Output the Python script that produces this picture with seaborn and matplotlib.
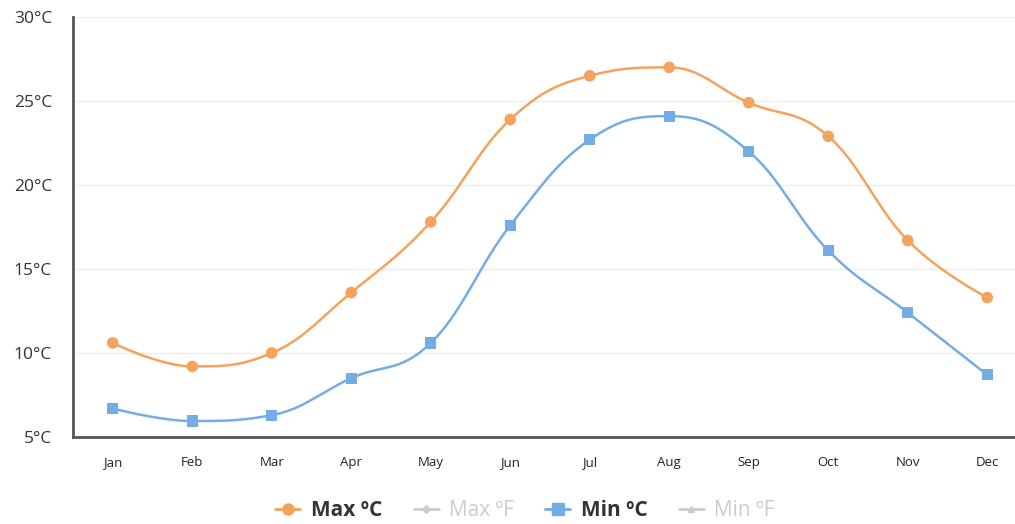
import numpy as np
import pandas as pd
import matplotlib
matplotlib.use("Agg")
import matplotlib.pyplot as plt
import seaborn as sns
from matplotlib.lines import Line2D

# Data
months = ["Jan", "Feb", "Mar", "Apr", "May", "Jun",
          "Jul", "Aug", "Sep", "Oct", "Nov", "Dec"]
max_c = [10.6, 9.2, 10.0, 13.6, 17.8, 23.9, 26.5, 27.0, 24.9, 22.9, 16.7, 13.3]
min_c = [6.7, 5.95, 6.3, 8.5, 10.6, 17.6, 22.7, 24.1, 22.0, 16.1, 12.4, 8.7]
y_ticks = [5, 10, 15, 20, 25, 30]
legend_labels = ["Max ºC", "Max ºF", "Min ºC", "Min ºF"]

ORANGE = "#f3a35c"
BLUE = "#74ade5"
GREY = "#cccccc"


def spline_path(xs, ys, smoothing=1.5, steps=30):
    """Smooth curve through the points, like a Highcharts spline."""
    n = len(xs)
    left = [(xs[i], ys[i]) for i in range(n)]
    right = [(xs[i], ys[i]) for i in range(n)]
    denom = smoothing + 1
    for i in range(1, n - 1):
        x, y = xs[i], ys[i]
        lx, ly = xs[i - 1], ys[i - 1]
        nx, ny = xs[i + 1], ys[i + 1]
        lcx = (smoothing * x + lx) / denom
        lcy = (smoothing * y + ly) / denom
        rcx = (smoothing * x + nx) / denom
        rcy = (smoothing * y + ny) / denom
        if rcx != lcx:
            corr = (rcy - lcy) * (rcx - x) / (rcx - lcx) + y - rcy
            lcy += corr
            rcy += corr
        if lcy > max(ly, y):
            lcy = max(ly, y)
            rcy = 2 * y - lcy
        elif lcy < min(ly, y):
            lcy = min(ly, y)
            rcy = 2 * y - lcy
        if rcy > max(y, ny):
            rcy = max(y, ny)
            lcy = 2 * y - rcy
        elif rcy < min(y, ny):
            rcy = min(y, ny)
            lcy = 2 * y - rcy
        left[i] = (lcx, lcy)
        right[i] = (rcx, rcy)
    t = np.linspace(0, 1, steps)
    px, py = [], []
    for i in range(1, n):
        p0 = (xs[i - 1], ys[i - 1])
        p1 = right[i - 1]
        p2 = left[i]
        p3 = (xs[i], ys[i])
        bx = ((1 - t) ** 3 * p0[0] + 3 * (1 - t) ** 2 * t * p1[0]
              + 3 * (1 - t) * t ** 2 * p2[0] + t ** 3 * p3[0])
        by = ((1 - t) ** 3 * p0[1] + 3 * (1 - t) ** 2 * t * p1[1]
              + 3 * (1 - t) * t ** 2 * p2[1] + t ** 3 * p3[1])
        px.extend(bx)
        py.extend(by)
    return np.array(px), np.array(py)


sns.set_style("white")
plt.rcParams["font.family"] = ["Open Sans", "DejaVu Sans"]

df = pd.DataFrame({"month": months, "max": max_c, "min": min_c})
df["x"] = np.arange(len(df))

fig = plt.figure(figsize=(10.15, 5.24), dpi=100)
ax = fig.add_axes([73 / 1015, 87 / 524, 954 / 1015, 420 / 524])

for col, color, marker in [("max", ORANGE, "o"), ("min", BLUE, "s")]:
    sx, sy = spline_path(df["x"].values.astype(float), df[col].values)
    ax.plot(sx, sy, color=color, lw=1.8, zorder=2, solid_capstyle="round")
    sns.scatterplot(data=df, x="x", y=col, ax=ax, color=color, marker=marker,
                    s=70 if marker == "o" else 65, edgecolor="none", zorder=3,
                    legend=False)

ax.set_xlim(-0.5, len(months) - 0.5)
ax.set_ylim(5, 30)
ax.set_yticks(y_ticks)
ax.set_yticklabels([f"{v}°C" for v in y_ticks], fontsize=12.5, color="#333333")
ax.set_xticks(df["x"])
ax.set_xticklabels(months, fontsize=9.5, color="#222222")
ax.tick_params(axis="y", length=0, pad=15)
ax.tick_params(axis="x", length=0, pad=14)
ax.yaxis.grid(True, color="#eeeeee", lw=1)
ax.set_axisbelow(True)
ax.set_xlabel("")
ax.set_ylabel("")
for side in ["top", "right"]:
    ax.spines[side].set_visible(False)
ax.spines["left"].set_color("#555555")
ax.spines["left"].set_linewidth(2)
ax.spines["bottom"].set_color("#555555")
ax.spines["bottom"].set_linewidth(2)
for lbl in ax.get_yticklabels():
    lbl.set_horizontalalignment("right")

handles = [
    Line2D([], [], color=ORANGE, marker="o", markersize=8, lw=2),
    Line2D([], [], color=GREY, marker="D", markersize=4, lw=2),
    Line2D([], [], color=BLUE, marker="s", markersize=8, lw=2),
    Line2D([], [], color=GREY, marker="^", markersize=5, lw=2),
]
leg = fig.legend(handles, legend_labels, loc="center", ncol=4,
                 bbox_to_anchor=(525 / 1015, 1 - 511 / 524), frameon=False,
                 handlelength=1.2, handletextpad=0.5, columnspacing=1.5,
                 prop={"size": 15, "weight": "bold"})
for txt, c in zip(leg.get_texts(), ["#333333", GREY, "#333333", GREY]):
    txt.set_color(c)
leg.get_texts()[1].set_fontweight("normal")
leg.get_texts()[3].set_fontweight("normal")

fig.savefig("out.png", dpi=100)
